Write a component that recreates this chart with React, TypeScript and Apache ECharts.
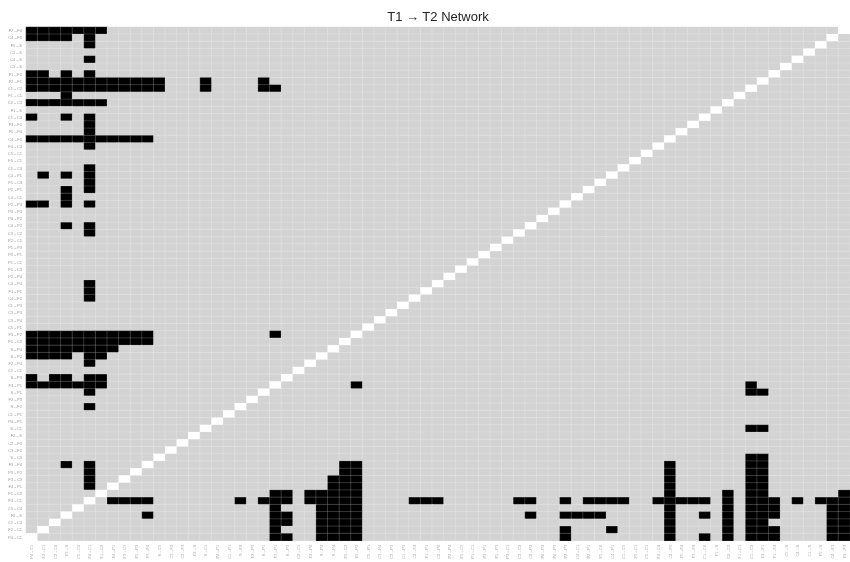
import React, { useEffect, useRef } from "react";
import * as echarts from "echarts";

// Row labels, top to bottom (x labels are the same nodes, left to right = bottom to top)
const rowLabels: string[] = [
  "F2→F3", "C4→F3", "F5→S", "C1→S", "C4→S", "C5→S", "F1→F2", "F2→F1", "C1→C2", "F1→C1",
  "C2→C3", "F1→S", "C1→C4", "F3→F2", "F5→F4", "C4→F5", "F4→C4", "C5→C1", "F5→C1", "C1→C3",
  "C4→P1", "F5→C4", "P2→P1", "C4→C1", "P2→P3", "P4→P3", "P4→P2", "C4→P2", "C3→C2", "P2→C1",
  "P1→P3", "P3→P1", "P1→C1", "F5→C3", "P2→P4", "C4→P4", "F1→P1", "C4→F2", "C1→P3", "C3→P3",
  "C3→P4", "C5→P1", "F3→P2", "F5→C2", "S→P4", "S→P2", "F2→P4", "C2→C1", "S→P3", "F3→P1",
  "S→P1", "F2→P3", "S→F2", "C1→P1", "P4→P1", "S→C1", "F2→S", "C2→F3", "C3→F2", "S→C3",
  "F3→F4", "P3→P2", "F3→C3", "F4→P1", "F1→C2", "F4→C1", "C5→C4", "F3→S", "C2→C4", "F2→C1",
  "P4→C1",
];
const colLabels: string[] = rowLabels.slice().reverse();

// Black (present) edges: for each row (top to bottom), the column indices that are black
const blackCells: number[][] = [
  [0, 1, 2, 3, 4, 5, 6],
  [0, 1, 2, 3, 5],
  [5],
  [],
  [5],
  [],
  [0, 1, 3, 5],
  [0, 1, 2, 3, 4, 5, 6, 7, 8, 9, 10, 11, 15, 20],
  [0, 1, 2, 3, 4, 5, 6, 7, 8, 9, 10, 11, 15, 20, 21],
  [3],
  [0, 1, 2, 3, 4, 5, 6],
  [],
  [0, 3, 5],
  [5],
  [5],
  [0, 1, 2, 3, 4, 5, 6, 7, 8, 9, 10],
  [5],
  [],
  [],
  [5],
  [1, 3, 5],
  [5],
  [3, 5],
  [3],
  [0, 1, 3, 5],
  [],
  [],
  [3, 5],
  [5],
  [],
  [],
  [],
  [],
  [],
  [],
  [5],
  [5],
  [5],
  [],
  [],
  [],
  [],
  [0, 1, 2, 3, 4, 5, 6, 7, 8, 9, 10, 21],
  [0, 1, 2, 3, 4, 5, 6, 7, 8, 9, 10],
  [0, 1, 2, 3, 4, 5, 6, 7],
  [0, 1, 2, 3, 5, 6],
  [5],
  [],
  [0, 2, 3, 5, 6],
  [0, 1, 2, 3, 4, 5, 6, 28, 62],
  [5, 62, 63],
  [],
  [5],
  [],
  [],
  [62, 63],
  [],
  [],
  [],
  [62, 63],
  [3, 5, 27, 28, 55, 62, 63],
  [5, 27, 28, 55, 62, 63],
  [5, 26, 27, 28, 55, 62, 63],
  [5, 26, 27, 28, 55, 62, 63],
  [21, 22, 24, 25, 26, 27, 28, 55, 60, 62, 63, 70],
  [7, 8, 9, 10, 18, 20, 21, 22, 24, 25, 26, 27, 28, 33, 34, 35, 42, 43, 46, 48, 49, 50, 51, 54, 55, 56, 57, 58, 60, 62, 63, 64, 66, 68, 69, 70],
  [21, 25, 26, 27, 28, 55, 60, 62, 63, 64, 69, 70],
  [10, 21, 22, 25, 26, 27, 28, 43, 46, 47, 48, 49, 55, 58, 60, 62, 63, 64, 69, 70],
  [21, 22, 25, 26, 27, 28, 55, 60, 62, 63, 69, 70],
  [21, 25, 26, 27, 28, 46, 50, 55, 60, 62, 63, 64, 69, 70],
  [21, 22, 25, 26, 27, 28, 46, 55, 58, 60, 62, 63, 64, 69, 70],
];

export default function App() {
  const ref = useRef<HTMLDivElement>(null);
  useEffect(() => {
    if (!ref.current) return;
    const chart = echarts.init(ref.current, undefined, { renderer: "svg" });
    const n = rowLabels.length;
    const data: number[][] = [];
    for (let r = 0; r < n; r++) {
      for (let c = 0; c < n; c++) {
        let v = 0;
        if (c === n - 1 - r) v = 2;
        else if ((blackCells[r] || []).includes(c)) v = 1;
        data.push([c, r, v]);
      }
    }
    chart.setOption({
      animation: false,
      title: {
        text: "T1 → T2 Network",
        left: 433,
        textAlign: "center",
        top: 5,
        textStyle: { fontSize: 13, fontWeight: "normal", color: "#222", fontFamily: "Liberation Sans, Arial, sans-serif" },
      },
      grid: { left: 26, right: 0, top: 27, bottom: 21, containLabel: false },
      xAxis: {
        type: "category",
        data: colLabels,
        axisLine: { show: false },
        axisTick: { show: false },
        splitLine: { show: false },
        axisLabel: { rotate: 90, interval: 0, fontSize: 4, color: "#aaa", margin: 4, fontFamily: "Liberation Sans, Arial, sans-serif" },
      },
      yAxis: {
        type: "category",
        data: rowLabels,
        inverse: true,
        axisLine: { show: false },
        axisTick: { show: false },
        splitLine: { show: false },
        axisLabel: { interval: 0, fontSize: 4, color: "#999", margin: 4, fontFamily: "Liberation Sans, Arial, sans-serif" },
      },
      visualMap: {
        type: "piecewise",
        show: false,
        dimension: 2,
        pieces: [
          { value: 0, color: "#d3d3d3" },
          { value: 1, color: "#000000" },
          { value: 2, color: "#ffffff" },
        ],
      },
      series: [
        {
          type: "heatmap",
          data,
          itemStyle: { borderColor: "rgba(255,255,255,0.3)", borderWidth: 0.6 },
          emphasis: { disabled: true },
        },
      ],
    });
    return () => chart.dispose();
  }, []);
  return <div ref={ref} style={{ position: "fixed", left: 0, top: 0, width: 850, height: 562 }} />;
}
